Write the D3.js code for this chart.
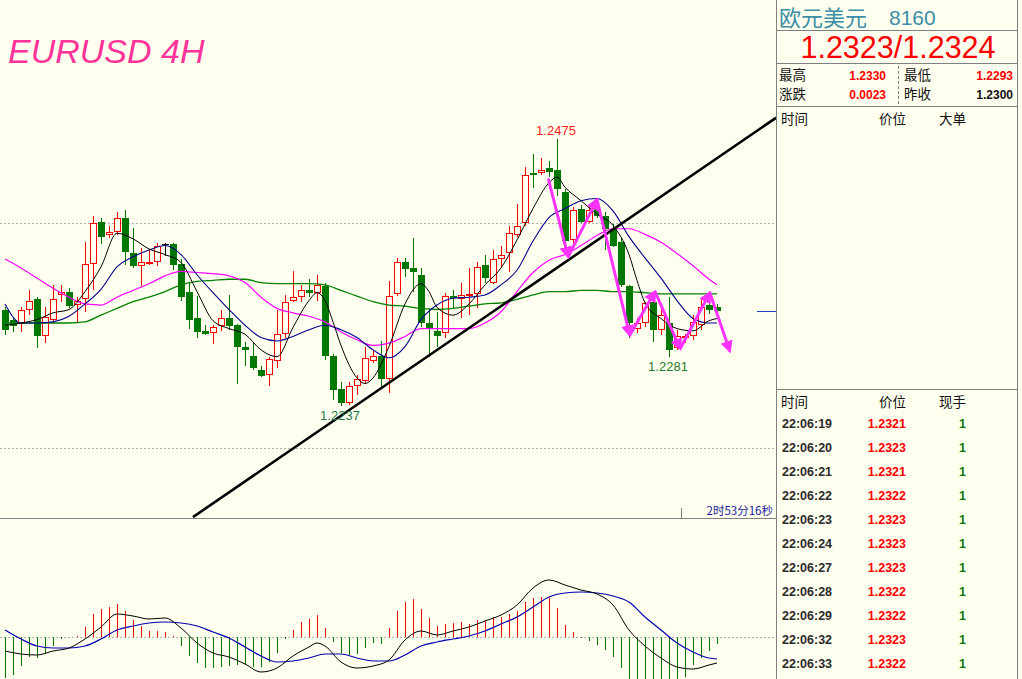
<!DOCTYPE html>
<html><head><meta charset="utf-8">
<script src="https://cdn.jsdelivr.net/npm/d3@7"></script>
<style>body{margin:0;background:#ffffef;overflow:hidden}svg{display:block}</style>
</head><body><svg id="c" width="1022" height="679"></svg>
<script>
// ---------- DATA ----------
const opens = [1.2323,1.2314,1.2310,1.2323,1.2332,1.2299,1.2314,1.2336,1.2339,1.2327,
1.2332,1.2364,1.2401,1.2389,1.2392,1.2405,1.2373,1.2362,1.2364,1.2365,
1.2381,1.2381,1.2364,1.2339,1.2315,1.2304,1.2302,1.2308,1.2315,1.2309,
1.2290,1.2282,1.2269,1.2265,1.2277,1.2301,1.2331,1.2334,1.2340,1.2338,
1.2344,1.2282,1.2252,1.2240,1.2255,1.2259,1.2277,1.2282,1.2261,1.2337,
1.2365,1.2360,1.2354,1.2311,1.2304,1.2302,1.2335,1.2332,1.2335,1.2337,
1.2363,1.2347,1.2368,1.2373,1.2389,1.2400,1.2445,1.2445,1.2449,1.2447,
1.2428,1.2385,1.2413,1.2401,1.2413,1.2406,1.2395,1.2383,1.2344,1.2306,
1.2311,1.2330,1.2305,1.2311,1.2289,1.2298,1.2299,1.2309,1.2327,1.2325];
const highs = [1.2325,1.2315,1.2325,1.2340,1.2334,1.2325,1.2345,1.2345,1.2342,1.2334,
1.2383,1.2406,1.2405,1.2397,1.2410,1.2412,1.2396,1.2378,1.2376,1.2382,
1.2382,1.2382,1.2368,1.2347,1.2335,1.2309,1.2309,1.2323,1.2336,1.2310,
1.2294,1.2293,1.2273,1.2281,1.2323,1.2336,1.2357,1.2345,1.2350,1.2354,
1.2347,1.2283,1.2258,1.2258,1.2265,1.2290,1.2287,1.2295,1.2348,1.2369,
1.2369,1.2387,1.2360,1.2324,1.2321,1.2338,1.2340,1.2347,1.2360,1.2365,
1.2372,1.2376,1.2380,1.2397,1.2417,1.2450,1.2462,1.2458,1.2455,1.2475,
1.2430,1.2414,1.2416,1.2416,1.2419,1.2410,1.2399,1.2387,1.2345,1.2315,
1.2330,1.2333,1.2327,1.2334,1.2305,1.2301,1.2318,1.2333,1.2329,1.2328];
const lows = [1.2300,1.2303,1.2303,1.2318,1.2289,1.2293,1.2310,1.2330,1.2324,1.2312,
1.2321,1.2340,1.2381,1.2387,1.2389,1.2363,1.2360,1.2344,1.2363,1.2362,
1.2371,1.2358,1.2331,1.2306,1.2298,1.2300,1.2292,1.2304,1.2305,1.2257,
1.2273,1.2269,1.2263,1.2255,1.2271,1.2298,1.2330,1.2330,1.2334,1.2331,
1.2278,1.2242,1.2237,1.2238,1.2247,1.2257,1.2275,1.2254,1.2249,1.2335,
1.2352,1.2339,1.2307,1.2281,1.2290,1.2298,1.2324,1.2315,1.2318,1.2324,
1.2347,1.2346,1.2361,1.2356,1.2388,1.2397,1.2431,1.2443,1.2441,1.2424,
1.2382,1.2380,1.2400,1.2400,1.2405,1.2376,1.2379,1.2343,1.2298,1.2302,
1.2307,1.2294,1.2300,1.2281,1.2287,1.2293,1.2296,1.2305,1.2319,1.2320];
const closes = [1.2305,1.2308,1.2323,1.2331,1.2299,1.2316,1.2332,1.2339,1.2326,1.2331,
1.2364,1.2400,1.2388,1.2392,1.2405,1.2374,1.2362,1.2365,1.2365,1.2380,
1.2381,1.2363,1.2334,1.2314,1.2303,1.2301,1.2307,1.2315,1.2308,1.2290,
1.2287,1.2271,1.2264,1.2279,1.2301,1.2330,1.2334,1.2340,1.2338,1.2345,
1.2282,1.2251,1.2240,1.2255,1.2261,1.2280,1.2282,1.2261,1.2335,1.2365,
1.2359,1.2356,1.2311,1.2306,1.2299,1.2335,1.2333,1.2336,1.2337,1.2361,
1.2351,1.2368,1.2372,1.2391,1.2397,1.2443,1.2443,1.2447,1.2446,1.2430,
1.2384,1.2412,1.2401,1.2412,1.2406,1.2395,1.2380,1.2345,1.2311,1.2311,
1.2329,1.2305,1.2318,1.2287,1.2299,1.2299,1.2312,1.2325,1.2323,1.2322];

// moving averages as [candle index, price]
const ma5 = [[0,1.2309],[2,1.2311],[4,1.2314],[6,1.2320],[8,1.2323],[10,1.2339],[12,1.2361],[14,1.2391],[16,1.2386],[18,1.2377],[20,1.2372],[22,1.2365],[24,1.2339],[26,1.2313],[28,1.2306],[30,1.2301],[32,1.2287],[34,1.2281],[36,1.2307],[38,1.2331],[39,1.2338],[40,1.2331],[41,1.2312],[42,1.2291],[44,1.2262],[45,1.2257],[46,1.2262],[48,1.2290],[50,1.2328],[52,1.2346],[53,1.2339],[54,1.2325],[56,1.2318],[58,1.2328],[60,1.2345],[62,1.2360],[64,1.2385],[66,1.2413],[68,1.2436],[69,1.2441],[70,1.2432],[72,1.2420],[74,1.2408],[76,1.2398],[78,1.2372],[79,1.2349],[80,1.2329],[82,1.2315],[84,1.2306],[86,1.2304],[88,1.2313],[89,1.2315]];
const ma10 = [[0,1.2328],[2,1.2311],[4,1.2311],[6,1.2312],[8,1.2317],[10,1.2328],[12,1.2341],[14,1.2361],[16,1.2370],[18,1.2376],[20,1.2380],[22,1.2372],[24,1.2354],[26,1.2338],[28,1.2323],[30,1.2309],[32,1.2298],[34,1.2295],[36,1.2299],[38,1.2305],[40,1.2309],[42,1.2305],[44,1.2298],[46,1.2287],[48,1.2280],[50,1.2290],[52,1.2314],[54,1.2327],[56,1.2333],[58,1.2334],[60,1.2336],[62,1.2345],[64,1.2358],[66,1.2384],[68,1.2405],[70,1.2413],[72,1.2420],[74,1.2422],[76,1.2411],[78,1.2388],[80,1.2369],[82,1.2351],[84,1.2331],[86,1.2315],[88,1.2311],[89,1.2311]];
const ma20 = [[0,1.2368],[2,1.2360],[4,1.2351],[6,1.2342],[8,1.2334],[10,1.2328],[12,1.2327],[14,1.2334],[16,1.2340],[18,1.2346],[20,1.2353],[22,1.2357],[24,1.2356],[26,1.2355],[28,1.2353],[30,1.2347],[32,1.2334],[34,1.2324],[36,1.2320],[38,1.2317],[40,1.2312],[42,1.2303],[44,1.2296],[46,1.2291],[48,1.2293],[50,1.2299],[52,1.2306],[54,1.2306],[56,1.2306],[58,1.2306],[60,1.2311],[62,1.2321],[64,1.2339],[66,1.2356],[68,1.2367],[70,1.2372],[72,1.2380],[74,1.2389],[76,1.2395],[78,1.2395],[80,1.2390],[82,1.2383],[84,1.2373],[86,1.2362],[88,1.2350],[89,1.2345]];
const ma60 = [[0,1.2311],[2,1.2311],[4,1.2311],[6,1.2311],[8,1.2311],[10,1.2312],[12,1.2318],[14,1.2324],[16,1.2330],[18,1.2334],[20,1.2339],[22,1.2345],[24,1.2348],[26,1.2349],[28,1.2350],[30,1.2350],[32,1.2347],[34,1.2346],[36,1.2346],[38,1.2346],[40,1.2345],[42,1.2340],[44,1.2335],[46,1.2330],[48,1.2327],[50,1.2326],[52,1.2324],[54,1.2323],[56,1.2324],[58,1.2326],[60,1.2328],[62,1.2329],[64,1.2332],[66,1.2336],[68,1.2339],[70,1.2339],[72,1.2340],[74,1.2340],[76,1.2339],[78,1.2339],[80,1.2338],[82,1.2337],[84,1.2337],[86,1.2337],[88,1.2337],[89,1.2337]];

// MACD (units of 0.0001)
const macdHist = [-4.1,-3.8,-2.9,-2.0,-2.1,-1.6,-0.9,-0.2,0.0,0.1,
1.0,2.3,2.8,3.0,3.3,2.6,1.7,1.1,0.6,0.6,
0.5,0.1,-0.9,-1.9,-2.6,-3.1,-3.1,-3.0,-2.9,-2.8,
-2.8,-3.0,-3.0,-2.5,-1.6,-0.2,0.7,1.5,1.8,2.2,
0.9,-0.5,-1.6,-1.8,-1.7,-1.1,-0.6,-0.7,0.9,2.6,
3.5,3.8,2.8,1.9,1.1,1.3,1.4,1.5,1.3,1.7,
1.6,2.0,2.0,2.3,2.6,3.5,3.9,4.0,3.9,2.9,
1.2,0.5,-0.05,-0.4,-0.8,-1.3,-2.0,-3.1,-4.6,-5.0,
-5.3,-5.5,-5.6,-5.5,-5.2,-4.0,-2.8,-2.1,-1.4,-0.7];
const macdDif = [[0,-1.4],[2,-1.7],[4,-1.8],[6,-1.4],[8,-1.1],[10,-0.2],[12,1.0],[14,2.3],[16,2.1],[18,1.8],[20,1.9],[22,0.9],[24,-0.6],[26,-1.6],[28,-2.0],[30,-2.7],[32,-3.5],[34,-3.1],[36,-1.9],[38,-1.0],[39,-0.6],[40,-0.9],[42,-2.5],[44,-3.1],[46,-2.9],[48,-2.3],[50,-0.3],[52,0.6],[54,0.2],[56,0.6],[58,1.0],[60,1.6],[62,2.2],[64,3.2],[66,4.9],[68,5.7],[70,5.2],[72,4.7],[74,4.3],[76,3.2],[78,0.7],[80,-0.9],[82,-2.1],[84,-3.0],[86,-3.2],[88,-2.8],[89,-2.6]];
const macdDea = [[0,0.7],[2,-0.2],[4,-0.9],[6,-1.1],[8,-1.1],[10,-0.9],[12,-0.2],[14,0.7],[16,1.1],[18,1.4],[20,1.5],[22,1.4],[24,1.1],[26,0.5],[28,-0.1],[30,-1.0],[32,-1.9],[34,-2.5],[36,-2.4],[38,-2.1],[40,-1.7],[42,-1.7],[44,-2.1],[46,-2.4],[48,-2.4],[50,-1.8],[52,-0.9],[54,-0.5],[56,-0.2],[58,0.1],[60,0.6],[62,1.3],[64,2.0],[66,3.0],[68,4.0],[70,4.4],[72,4.5],[74,4.4],[76,4.1],[78,3.5],[80,2.0],[82,0.7],[84,-0.6],[86,-1.5],[88,-2.1],[89,-2.2]];

// annotations
const trendLine = [[23.5,1.2138],[96.4,1.2494]];
const zigzag = [[67.9,1.2440],[70.4,1.2370],[74.0,1.2421],[78.1,1.2300],[81.25,1.2339],[84.4,1.2288],[88.1,1.2338],[90.6,1.2286]];
const extremeLabels = [{i:69,p:1.2475,text:"1.2475",pos:"top",color:"#ff1a1a"},{i:42,p:1.2237,text:"1.2237",pos:"bottom",color:"#1f7a4a"},{i:83,p:1.2281,text:"1.2281",pos:"bottom",color:"#2a7a2a"}];
const gridPrices = [1.24, 1.22];
const lastPrice = 1.2322;

// quote panel
const quoteName = "欧元美元", quoteCode = "8160", quoteBidAsk = "1.2323/1.2324";
const statLabels = [["最高","1.2330","最低","1.2293"],["涨跌","0.0023","昨收","1.2300"]];
const tickTimes = ["22:06:19","22:06:20","22:06:21","22:06:22","22:06:23","22:06:24","22:06:27","22:06:28","22:06:29","22:06:32","22:06:33"];
const tickPrices = ["1.2321","1.2323","1.2321","1.2322","1.2323","1.2323","1.2323","1.2322","1.2322","1.2323","1.2322"];
const tickVols = ["1","1","1","1","1","1","1","1","1","1","1"];
const countdown = "2时53分16秒";

// ---------- DRAW ----------
const svg = d3.select("#c");
const W = 1022, H = 679, plotR = 776, mainB = 518;
const x = d3.scaleLinear().domain([0, 89]).range([5, 717]);
const y = d3.scaleLinear().domain([1.213805, 1.25989]).range([517, 0]);
const ym = d3.scaleLinear().domain([-4.2, 12]).range([679, 517]);
const RED = "#ff0000", GREEN = "#007800";

svg.append("rect").attr("width", W).attr("height", H).attr("fill", "#ffffef");
const defs = svg.append("defs");
defs.append("clipPath").attr("id","mainClip").append("rect").attr("x",0).attr("y",0).attr("width",plotR).attr("height",mainB);
defs.append("clipPath").attr("id","macdClip").append("rect").attr("x",0).attr("y",mainB+1).attr("width",plotR).attr("height",H-mainB-1);
defs.append("marker").attr("id","ah").attr("viewBox","0 0 10 10").attr("refX",8).attr("refY",5)
  .attr("markerWidth",4.2).attr("markerHeight",4.2).attr("orient","auto")
  .append("path").attr("d","M0,0 L10,5 L0,10 z").attr("fill","#ff33ff");

const main = svg.append("g").attr("clip-path","url(#mainClip)");
// grid
main.selectAll(".grid").data(gridPrices).enter().append("line")
  .attr("x1",0).attr("x2",plotR).attr("y1",d=>Math.round(y(d))+0.5).attr("y2",d=>Math.round(y(d))+0.5)
  .attr("stroke","#b0b0a8").attr("stroke-dasharray","2,2");

// candles
const idx = d3.range(opens.length);
const cg = main.append("g").attr("shape-rendering","crispEdges");
idx.forEach(i => {
  const cx = Math.round(x(i));
  const o = y(opens[i]), c = y(closes[i]), h = y(highs[i]), l = y(lows[i]);
  const top = Math.round(Math.min(o,c)), bot = Math.round(Math.max(o,c));
  if (closes[i] > opens[i]) {
    cg.append("line").attr("x1",cx+0.5).attr("x2",cx+0.5).attr("y1",h).attr("y2",top).attr("stroke",RED);
    cg.append("line").attr("x1",cx+0.5).attr("x2",cx+0.5).attr("y1",bot).attr("y2",l).attr("stroke",RED);
    cg.append("rect").attr("x",cx-2.5).attr("y",top+0.5).attr("width",6).attr("height",Math.max(1,bot-top-1))
      .attr("fill","#ffffef").attr("stroke",RED).attr("stroke-width",1.2);
  } else if (closes[i] < opens[i]) {
    cg.append("line").attr("x1",cx+0.5).attr("x2",cx+0.5).attr("y1",h).attr("y2",l).attr("stroke",GREEN);
    cg.append("rect").attr("x",cx-3).attr("y",top).attr("width",7).attr("height",Math.max(2,bot-top)).attr("fill",GREEN);
  } else {
    cg.append("line").attr("x1",cx+0.5).attr("x2",cx+0.5).attr("y1",h).attr("y2",l).attr("stroke","#000");
    cg.append("line").attr("x1",cx-3).attr("x2",cx+4).attr("y1",top+0.5).attr("y2",top+0.5).attr("stroke","#000");
  }
});

// moving averages
const maLine = d3.line().x(d=>x(d[0])).y(d=>y(d[1])).curve(d3.curveMonotoneX);
[[ma60,"#008000",1.3],[ma20,"#ff00ff",1.2],[ma10,"#00008b",1.1],[ma5,"#000000",1]].forEach(([data,col,w])=>{
  main.append("path").datum(data).attr("d",maLine).attr("fill","none").attr("stroke",col).attr("stroke-width",w);
});

// trend line
main.append("line").attr("x1",x(trendLine[0][0])).attr("y1",y(trendLine[0][1]))
  .attr("x2",x(trendLine[1][0])).attr("y2",y(trendLine[1][1])).attr("stroke","#000").attr("stroke-width",2.6);

// zigzag arrows
for (let k=0;k<zigzag.length-1;k++){
  const a=zigzag[k], b=zigzag[k+1];
  main.append("line").attr("x1",x(a[0])).attr("y1",y(a[1])).attr("x2",x(b[0])).attr("y2",y(b[1]))
    .attr("stroke","#ff33ff").attr("stroke-width",3).attr("marker-end","url(#ah)");
}

// extreme labels
extremeLabels.forEach(d=>{
  main.append("text").attr("x",x(d.i)-1).attr("y", d.pos==="top" ? y(highs[d.i])-4 : y(lows[d.i])+14)
    .attr("text-anchor","middle").attr("font-family","Liberation Sans, Arial, sans-serif").attr("font-size",13)
    .attr("fill",d.color).text(d.text);
});

// last price marker
svg.append("line").attr("x1",757).attr("x2",plotR).attr("y1",Math.round(y(lastPrice))+0.5).attr("y2",Math.round(y(lastPrice))+0.5)
  .attr("stroke","#2040c0").attr("stroke-width",1);

// title
svg.append("text").attr("x",8).attr("y",63).attr("font-family","Liberation Sans, Arial, sans-serif")
  .attr("font-style","italic").attr("font-size",34).attr("fill","#ff3399").text("EURUSD 4H");

// MACD
const mg = svg.append("g").attr("clip-path","url(#macdClip)");
mg.append("line").attr("x1",0).attr("x2",plotR).attr("y1",Math.round(ym(0))+0.5).attr("y2",Math.round(ym(0))+0.5)
  .attr("stroke","#b0b0a8").attr("stroke-dasharray","2,2");
mg.append("g").attr("shape-rendering","crispEdges").selectAll("line").data(macdHist).enter().append("line")
  .attr("x1",(d,i)=>Math.round(x(i))+0.5).attr("x2",(d,i)=>Math.round(x(i))+0.5)
  .attr("y1",ym(0)).attr("y2",d=>ym(d)).attr("stroke",d=>d>=0?RED:GREEN).attr("stroke-width",1.6);
const mLine = d3.line().x(d=>x(d[0])).y(d=>ym(d[1])).curve(d3.curveMonotoneX);
mg.append("path").datum(macdDea).attr("d",mLine).attr("fill","none").attr("stroke","#0000b0").attr("stroke-width",1.2);
mg.append("path").datum(macdDif).attr("d",mLine).attr("fill","none").attr("stroke","#000").attr("stroke-width",1);

// frame lines
const frame = svg.append("g").attr("shape-rendering","crispEdges").attr("stroke","#808080");
frame.append("line").attr("x1",0).attr("x2",plotR).attr("y1",mainB+0.5).attr("y2",mainB+0.5);
frame.append("line").attr("x1",plotR+0.5).attr("x2",plotR+0.5).attr("y1",0).attr("y2",H);
frame.append("line").attr("x1",681.5).attr("x2",681.5).attr("y1",508).attr("y2",mainB);
svg.append("text").attr("x",773).attr("y",515).attr("text-anchor","end").attr("font-family","Noto Sans CJK SC, sans-serif")
  .attr("font-size",11.5).attr("fill","#1a1a9a").text(countdown);

// ---------- quote panel ----------
const qp = svg.append("g");
const PR = 1017;
const pf = qp.append("g").attr("shape-rendering","crispEdges").attr("stroke","#808080");
pf.append("line").attr("x1",PR+0.5).attr("x2",PR+0.5).attr("y1",0).attr("y2",H);
[30,63,106,389].forEach(yy=>pf.append("line").attr("x1",plotR).attr("x2",PR).attr("y1",yy+0.5).attr("y2",yy+0.5));
pf.append("line").attr("x1",898.5).attr("x2",898.5).attr("y1",66).attr("y2",104).attr("stroke-dasharray","3,2");

const CJK = "Noto Sans CJK SC, sans-serif", LAT = "Liberation Sans, Arial, sans-serif";
qp.append("text").attr("x",779).attr("y",26).attr("font-family",CJK).attr("font-size",22).attr("fill","#3c8fa5").text(quoteName);
qp.append("text").attr("x",889).attr("y",25).attr("font-family",LAT).attr("font-size",21).attr("fill","#3c8fa5").text(quoteCode);
qp.append("text").attr("x",898).attr("y",58).attr("text-anchor","middle").attr("font-family",LAT).attr("font-size",30.5).attr("fill",RED).text(quoteBidAsk);
statLabels.forEach((r,k)=>{
  const yy = 80 + k*19;
  qp.append("text").attr("x",779).attr("y",yy).attr("font-family",CJK).attr("font-size",13.5).attr("fill","#111").text(r[0]);
  qp.append("text").attr("x",886).attr("y",yy).attr("text-anchor","end").attr("font-family",LAT).attr("font-weight","bold").attr("font-size",12).attr("fill",RED).text(r[1]);
  qp.append("text").attr("x",904).attr("y",yy).attr("font-family",CJK).attr("font-size",13.5).attr("fill","#111").text(r[2]);
  qp.append("text").attr("x",1013).attr("y",yy).attr("text-anchor","end").attr("font-family",LAT).attr("font-weight","bold").attr("font-size",12)
    .attr("fill",k===1?"#111":RED).text(r[3]);
});
[["时间",781],["价位",879],["大单",939]].forEach(([t,xx])=>qp.append("text").attr("x",xx).attr("y",124).attr("font-family",CJK).attr("font-size",13.5).attr("fill","#111").text(t));
[["时间",781],["价位",879],["现手",939]].forEach(([t,xx])=>qp.append("text").attr("x",xx).attr("y",407).attr("font-family",CJK).attr("font-size",13.5).attr("fill","#111").text(t));
tickTimes.forEach((t,k)=>{
  const yy = 428 + k*24;
  qp.append("text").attr("x",782).attr("y",yy).attr("font-family",LAT).attr("font-weight","bold").attr("font-size",12.5).attr("fill","#2a2a2a").text(t);
  qp.append("text").attr("x",906).attr("y",yy).attr("text-anchor","end").attr("font-family",LAT).attr("font-weight","bold").attr("font-size",12.5).attr("fill",RED).text(tickPrices[k]);
  qp.append("text").attr("x",966).attr("y",yy).attr("text-anchor","end").attr("font-family",LAT).attr("font-weight","bold").attr("font-size",12.5).attr("fill","#0a7a0a").text(tickVols[k]);
});
</script></body></html>
